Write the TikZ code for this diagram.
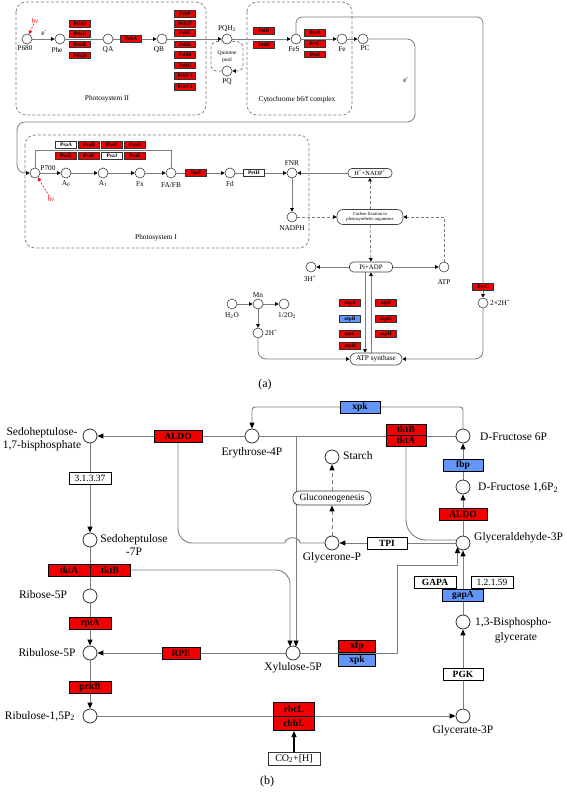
\documentclass[tikz,border=0pt]{standalone}
\usepackage{fontspec}
\setmainfont{Liberation Serif}
\usetikzlibrary{arrows.meta,calc}
\definecolor{kred}{RGB}{240,0,0}
\definecolor{kblue}{RGB}{100,150,250}
\definecolor{lgray}{RGB}{125,125,125}
\pgfdeclarelayer{bg}
\pgfsetlayers{bg,main}
\begin{document}
\begin{tikzpicture}[x=1pt,y=-1pt,
  ca/.style={circle,draw=black!75,fill=white,minimum size=10pt,inner sep=0,line width=0.6pt},
  cb/.style={circle,draw=black!80,fill=white,minimum size=14pt,inner sep=0,line width=0.8pt},
  la/.style={font=\fontsize{7.3}{8}\selectfont,inner sep=0},
  lb/.style={font=\fontsize{11.5}{13}\selectfont,inner sep=0},
  ba/.style={draw=black!80,line width=0.8pt,minimum width=21pt,minimum height=6.8pt,inner sep=0,font=\bfseries\fontsize{5.4}{5.6}\selectfont},
  rA/.style={ba,fill=kred},
  wA/.style={ba,fill=white},
  bA/.style={ba,fill=kblue},
  bb/.style={draw=black,line width=1pt,minimum width=40pt,minimum height=12pt,inner sep=0,font=\bfseries\fontsize{9.5}{10}\selectfont},
  rB/.style={bb,fill=kred},
  wB/.style={bb,fill=white},
  bB/.style={bb,fill=kblue},
  rnd/.style={draw=black!75,fill=white,rounded corners=4pt,inner sep=0,line width=0.6pt},
  lna/.style={draw=lgray,line width=0.8pt},
  ara/.style={lna,-{Triangle[length=3.5pt,width=3.5pt,color=black]}},
  dsa/.style={ara,dashed,dash pattern=on 3pt off 2pt},
  lnb/.style={draw=lgray,line width=0.9pt},
  arb/.style={lnb,-{Triangle[length=6pt,width=5pt,color=black]}},
  dbox/.style={draw=lgray,line width=0.7pt,dashed,dash pattern=on 3pt off 2pt,rounded corners=10pt}
]
\useasboundingbox (0,0) rectangle (567,792);

%================ PANEL (a) ================
\draw[dbox] (16,2) rectangle (206,115);
\draw[dbox] (247,2) rectangle (352,115);
\draw[dbox] (25,135) rectangle (309,248);
\node[la] at (107,99) {Photosystem II};
\node[la] at (297,100) {Cytochrome b6/f complex};
\node[la] at (156,238) {Photosystem I};

% PSII
\node[ca] (p680) at (27,39) {};
\node[la] at (25,48) {P680};
\node[ca] (phe) at (60,39) {};
\node[la] at (57,50) {Phe};
\node[ca] (qa) at (108,39) {};
\node[la] at (108,50) {QA};
\node[ca] (qb) at (162,39) {};
\node[la] at (159,50) {QB};
\node[la] at (44,33) {e\textsuperscript{-}};
\node[la,text=red,font=\itshape\fontsize{7}{8}\selectfont] (hv1) at (35,21) {hv};

\node[rA] (psbO) at (80,24) {PsbO};
\node[rA] (psbD) at (80,34) {PsbD};
\node[rA] (psbB) at (80,44.5) {PsbB};
\node[rA] (psb28) at (80,55.5) {Psb28};
\node[rA] (psbA) at (131,39) {PsbA};
\node[rA] (psbP) at (185,14) {PsbP};
\node[rA] (psb27) at (185,24) {Psb27};
\node[rA] (psbC) at (185,33) {PsbC};
\node[rA] (psbE) at (185,44.5) {PsbE};
\node[rA] (psbH) at (185,55) {PsbH};
\node[rA] (psbU) at (185,65.5) {PsbU};
\node[rA] (psbV1) at (185,76) {PsbV1};
\node[rA] (psbV2) at (185,87) {PsbV2};

% quinone pool
\node[ca] (pqh) at (227,39) {};
\node[la] at (227,29) {PQH\textsubscript{2}};
\node[ca] (pq) at (227,71) {};
\node[la] at (227,82) {PQ};
\node[la,font=\fontsize{5.5}{6.5}\selectfont,align=center] at (227,57) {Quinone\\pool};

% cytochrome
\node[rA] (petB) at (264,31) {PetB};
\node[rA] (petD) at (264,45) {PetD};
\node[ca] (fes) at (296,39) {};
\node[la] at (294,49) {FeS};
\node[rA] (petA) at (315,33) {PetA};
\node[rA] (petC) at (315,44) {PetC};
\node[rA] (petJ) at (315,54.5) {PetJ};
\node[ca] (fe) at (342,39) {};
\node[la] at (342,49) {Fe};
\node[ca] (pc) at (363,39) {};
\node[la] at (365,48) {PC};
\node[la] at (406,80) {e\textsuperscript{-}};

% PSI
\node[ca] (p700) at (35,173) {};
\node[la] at (48,168) {P700};
\node[la,text=red,font=\itshape\fontsize{7}{8}\selectfont] (hv2) at (51,199) {hv};
\node[ca] (a0) at (66,173) {};
\node[la] at (66,184) {A\textsubscript{0}};
\node[ca] (a1) at (103,173) {};
\node[la] at (103,184) {A\textsubscript{1}};
\node[ca] (fx) at (140,173) {};
\node[la] at (140,184) {Fx};
\node[ca] (fafb) at (171,173) {};
\node[la] at (171,185) {FA/FB};
\node[wA] (psaA) at (66,144.5) {PsaA};
\node[rA] (psaB) at (89,144.5) {PsaB};
\node[rA] (psaC) at (112,144.5) {PsaC};
\node[rA] (psaD) at (135,144.5) {PsaD};
\node[rA] (psaE) at (66,156) {PsaE};
\node[rA] (psaF) at (89,156) {PsaF};
\node[wA] (psaJ) at (112,156) {PsaJ};
\node[rA] (psaL) at (135,156) {PsaL};
\node[rA] (petF) at (196,173) {PetF};
\node[ca] (fd) at (230,173) {};
\node[la] at (230,184) {Fd};
\node[wA] (petH) at (254,173) {PetH};
\node[ca] (fnr) at (292,173) {};
\node[la] at (292,163) {FNR};
\node[ca] (nadph) at (292,217) {};
\node[la] at (292,228) {NADPH};
\node[rnd,minimum width=44pt,minimum height=9pt,font=\fontsize{6.3}{7}\selectfont] (hnadp) at (370,173) {H\textsuperscript{+}+NADP\textsuperscript{+}};
\node[rnd,rounded corners=6pt,minimum width=66pt,minimum height=15pt,align=center,font=\fontsize{4.6}{5.6}\selectfont] (carb) at (370,217) {Carbon fixation in\\photosynthetic organisms};

% ATP part
\node[rnd,minimum width=43pt,minimum height=10pt,font=\fontsize{6.8}{7}\selectfont] (piadp) at (371,267) {Pi+ADP};
\node[ca] (atp) at (444,267) {};
\node[la] at (444,282) {ATP};
\node[ca] (h3) at (311,267) {};
\node[la] at (310,279) {3H\textsuperscript{+}};
\node[rnd,rounded corners=6pt,minimum width=52pt,minimum height=12pt,font=\fontsize{7.3}{8}\selectfont] (atps) at (376,359) {ATP synthase};
\node[rA] (atpA) at (350,303) {atpA};
\node[bA] (atpB) at (350,319) {atpB};
\node[rA] (atpC) at (350,334) {atpC};
\node[rA] (atpD) at (350,346) {atpD};
\node[rA] (atpF) at (386,303) {atpF};
\node[rA] (atpG) at (386,319) {atpG};
\node[rA] (atpH) at (386,334) {atpH};
\node[ca] (h2o) at (232,304) {};
\node[la] at (232,316) {H\textsubscript{2}O};
\node[ca] (mn) at (258,304) {};
\node[la] at (258,295) {Mn};
\node[ca] (o2) at (284,304) {};
\node[la] at (287,316) {1/2O\textsubscript{2}};
\node[ca] (h2p) at (258,333) {};
\node[la,anchor=west] at (265,333) {2H\textsuperscript{+}};
\node[rA] (petC2) at (483,287) {PetC};
\node[ca] (h22) at (483,303) {};
\node[la,anchor=west] at (490,303) {2×2H\textsuperscript{+}};

\node[font=\fontsize{12}{14}\selectfont] at (265,385) {(a)};

\begin{pgfonlayer}{bg}
\draw[ara] (p680) -- (phe);
\draw[lna] (phe) -- (qa);
\draw[ara] (qa) -- (qb);
\draw[ara] (qb) -- (pqh);
\draw[ara] (pqh) -- (fes);
\draw[ara] (fes) -- (fe);
\draw[ara] (fe) -- (pc);
\draw[ara,rounded corners=8pt] (pc) -- (415,39) -- (415,122) -- (17,122) -- (17,173) -- (p700);
\draw[dsa,rounded corners=5pt] (pqh.-25) -- (243,42) -- (243,71) -- (pq);
\draw[lna,dashed,dash pattern=on 3pt off 2pt,rounded corners=5pt] (pq) -- (211,71) -- (211,42) -- (pqh.205);
\draw[red,dashed,dash pattern=on 2pt off 1.5pt,line width=0.6pt,-{Triangle[length=3.5pt,width=3.5pt]}] (hv1) -- (p680);
\draw[red,dashed,dash pattern=on 2pt off 1.5pt,line width=0.6pt,-{Triangle[length=3.5pt,width=3.5pt]}] (hv2) -- (p700);
\draw[lna,rounded corners=6pt] (fes.north) -- (296,17) -- (483,17) -- (petC2);
\draw[ara] (petC2) -- (h22);
\draw[ara,rounded corners=8pt] (h22) -- (483,359) -- (atps);
\draw[ara] (p700) -- (a0);
\draw[ara] (a0) -- (a1);
\draw[ara] (a1) -- (fx);
\draw[ara] (fx) -- (fafb);
\draw[lna] (p700.north) -- (35,150.5) -- (171,150.5) -- (fafb.north);
\draw[lna] (fafb) -- (petF);
\draw[ara] (petF) -- (fd);
\draw[ara] (fd) -- (fnr);
\draw[ara] (hnadp) -- (fnr);
\draw[ara] (fnr) -- (nadph);
\draw[dsa] (nadph) -- (carb);
\draw[dsa] (carb) -- (hnadp);
\draw[dsa] (atp) |- (carb);
\draw[dsa] (carb) -- (piadp);
\draw[ara] (piadp) -- (atp);
\draw[ara] (piadp) -- (h3);
\draw[ara] ([xshift=-6pt]piadp.south) -- ([xshift=-6pt]piadp.south |- atps.north);
\draw[ara] (piadp.south |- atps.north) -- (piadp.south);
\draw[ara] (h2o) -- (mn);
\draw[ara] (mn) -- (o2);
\draw[ara] (mn) -- (h2p);
\draw[ara,rounded corners=8pt] (h2p) |- (atps);
\end{pgfonlayer}

%================ PANEL (b) ================
\node[cb] (sbp) at (90,436) {};
\node[cb] (e4p) at (252,436) {};
\node[cb] (s7p) at (90,540) {};
\node[cb] (r5p) at (90,596) {};
\node[cb] (ru5p) at (90,653) {};
\node[cb] (rubp) at (90,716) {};
\node[cb] (x5p) at (293,653) {};
\node[cb] (starch) at (332,457) {};
\node[cb] (gnp) at (332,543) {};
\node[cb] (f6p) at (463,436) {};
\node[cb] (fbp2) at (463,487) {};
\node[cb] (gap) at (463,543) {};
\node[cb] (bpg) at (463,622) {};
\node[cb] (g3p) at (463,716) {};

\node[lb,align=center] at (42,439) {Sedoheptulose-\\1,7-bisphosphate};
\node[lb] at (252,453) {Erythrose-4P};
\node[lb,align=center] at (134,545) {Sedoheptulose\\-7P};
\node[lb] at (43,595) {Ribose-5P};
\node[lb] at (47,653) {Ribulose-5P};
\node[lb] at (40,716) {Ribulose-1,5P\textsubscript{2}};
\node[lb] at (293,668) {Xylulose-5P};
\node[lb,anchor=west] at (343,456) {Starch};
\node[lb] at (332,558) {Glycerone-P};
\node[lb,anchor=west] at (480,437) {D-Fructose 6P};
\node[lb,anchor=west] at (478,488) {D-Fructose 1,6P\textsubscript{2}};
\node[lb,anchor=west] at (474,538) {Glyceraldehyde-3P};
\node[lb,anchor=west] at (475,623) {1,3-Bisphospho-};
\node[lb] at (516,638) {glycerate};
\node[lb] at (463,731) {Glycerate-3P};
\node[font=\fontsize{12}{14}\selectfont] at (267,782) {(b)};

\node[rB,minimum width=48pt] (aldo1) at (178,436) {ALDO};
\node[bB] (xpk1) at (360,407) {xpk};
\node[rB,minimum height=11pt] (tktB1) at (406,429.5) {tktB};
\node[rB,minimum height=11pt] (tktA1) at (406,440.5) {tktA};
\node[bB] (fbp) at (463,465) {fbp};
\node[rB,minimum width=48pt] (aldo2) at (463,514) {ALDO};
\node[wB] (tpi) at (387,543) {TPI};
\node[draw=black!80,fill=white,rounded corners=6pt,minimum width=78pt,minimum height=14pt,inner sep=0,line width=0.7pt,font=\fontsize{9.5}{10}\selectfont] (glu) at (332,498) {Gluconeogenesis};
\node[wB,minimum width=42pt] (gapA1) at (435,582) {GAPA};
\node[wB,minimum width=42pt,font=\fontsize{9.5}{10}\selectfont] (ec2) at (492,582) {1.2.1.59};
\node[bB,minimum width=41pt] (gapA2) at (463,595) {gapA};
\node[wB] (pgk) at (463,674) {PGK};
\node[rB,minimum width=37pt] (xfp) at (357,646) {xfp};
\node[bB,minimum width=37pt] (xpk2) at (357,660) {xpk};
\node[rB,minimum width=38pt] (rpe) at (181,653) {RPE};
\node[rB,minimum width=42pt] (rpiA) at (90,623) {rpiA};
\node[rB,minimum width=42pt] (prkB) at (90,687) {prkB};
\node[wB,minimum width=42pt,font=\fontsize{9.5}{10}\selectfont] (ec1) at (90,478) {3.1.3.37};
\node[rB,minimum width=42pt] (tktA2) at (69,570) {tktA};
\node[rB,minimum width=40pt] (tktB2) at (110,570) {tktB};
\node[rB,minimum width=41pt,minimum height=14pt] (rbcL) at (294,709.5) {rbcL};
\node[rB,minimum width=41pt,minimum height=14pt] (cbbL) at (294,723.5) {cbbL};
\node[draw=black!80,fill=white,line width=0.8pt,minimum width=52pt,minimum height=13pt,inner sep=0,font=\fontsize{10}{11}\selectfont] (co2) at (294,758.5) {CO\textsubscript{2}+[H]};

\begin{pgfonlayer}{bg}
\draw[arb] (e4p) -- (sbp);
\draw[lnb,rounded corners=14pt] (aldo1.south) -- (178,543) -- (285,543);
\draw[lnb] (285,543) .. controls (285,536) and (300,536) .. (300,543) -- (gnp);
\draw[arb,rounded corners=3pt] (f6p) -- (463,407) -- (252,407) -- (e4p);
\draw[lnb] (e4p) -- (f6p);
\draw[arb] (296,436) -- (296,646.5);
\draw[arb,rounded corners=14pt] (tktB2.east) -- (290,570) -- (290,646.5);
\draw[lnb,rounded corners=20pt] (tktA1.south) -- (406,540) -- (456.5,540);
\draw[arb] (gap) -- (gnp);
\draw[arb,dashed,dash pattern=on 4pt off 3pt] (gnp) -- (glu);
\draw[arb,dashed,dash pattern=on 4pt off 3pt] (glu) -- (starch);
\draw[arb] (gap) -- (fbp2);
\draw[arb] (fbp2) -- (f6p);
\draw[arb] (bpg) -- (gap);
\draw[arb] (x5p) -- (397,653) -- (397,565) -- (457.5,565) -- (457.5,547);
\draw[arb] (g3p) -- (bpg);
\draw[arb] (x5p) -- (ru5p);
\draw[arb] (sbp) -- (s7p);
\draw[lnb] (s7p) -- (r5p);
\draw[arb] (r5p) -- (ru5p);
\draw[arb] (ru5p) -- (rubp);
\draw[arb] (rubp) -- (g3p);
\draw[arb,draw=black,line width=1.2pt] (co2) -- (cbbL);
\end{pgfonlayer}
\end{tikzpicture}
\end{document}
